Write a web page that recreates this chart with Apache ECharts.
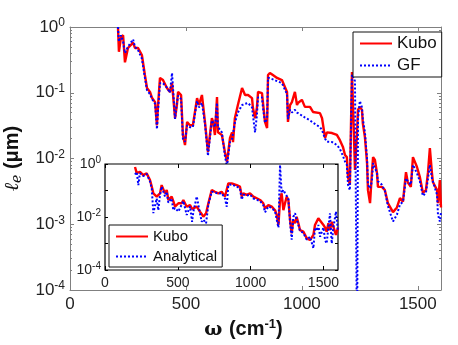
<!DOCTYPE html>
<html>
<head>
<meta charset="utf-8">
<script src="https://cdn.jsdelivr.net/npm/echarts@6/dist/echarts.min.js"></script>
<style>
html, body { margin: 0; padding: 0; background: #fff; }
#chart { width: 458px; height: 345px; }
</style>
</head>
<body>
<div id="chart"></div>
<script>
// main panel: Kubo vs GF, mean free path (um) against omega (cm^-1)
var mainFreq = [207, 211, 220, 229, 237, 250, 272, 280, 293, 310,
  323, 332, 345, 354, 367, 375, 379, 388, 401, 418,
  431, 440, 453, 461, 466, 479, 487, 496, 505, 517,
  530, 548, 556, 569, 582, 595, 612, 617, 625, 634,
  638, 655, 668, 677, 681, 690, 699, 703, 711, 724,
  742, 755, 768, 785, 789, 798, 806, 811, 828, 832,
  841, 850, 854, 862, 875, 893, 914, 936, 940, 949,
  957, 970, 979, 983, 1000, 1013, 1035, 1048, 1078, 1087,
  1100, 1108, 1130, 1151, 1164, 1177, 1186, 1194, 1199, 1207,
  1216, 1229, 1238, 1242, 1250, 1259, 1263, 1272, 1281, 1285,
  1294, 1302, 1307, 1315, 1324, 1328, 1345, 1358, 1371, 1393,
  1410, 1423, 1436, 1449, 1457, 1470, 1479, 1496, 1509, 1522,
  1535, 1544, 1552, 1561, 1565, 1583, 1587, 1595, 1600]
var mainKubo = [0.97, 0.42, 0.70, 0.75, 0.29, 0.48, 0.58, 0.48, 0.48, 0.375,
  0.186, 0.118, 0.103, 0.083, 0.072, 0.032, 0.059, 0.168, 0.156, 0.118,
  0.103, 0.14, 0.041, 0.065, 0.103, 0.0925, 0.0228, 0.016, 0.036, 0.032,
  0.032, 0.083, 0.065, 0.0925, 0.036, 0.0126, 0.041, 0.036, 0.0228, 0.086,
  0.025, 0.0228, 0.0126, 0.0089, 0.0113, 0.0205, 0.025, 0.0178, 0.041, 0.065,
  0.118, 0.0925, 0.0925, 0.083, 0.0586, 0.041, 0.0586, 0.103, 0.099, 0.072,
  0.036, 0.029, 0.186, 0.20, 0.186, 0.168, 0.156, 0.103, 0.036, 0.065,
  0.072, 0.103, 0.065, 0.070, 0.078, 0.061, 0.061, 0.051, 0.049, 0.041,
  0.0205, 0.025, 0.0244, 0.0228, 0.019, 0.015, 0.0113, 0.0105, 0.0052, 0.0040,
  0.207, 0.0067, 0.0244, 0.055, 0.061, 0.055, 0.034, 0.021, 0.0086, 0.0033,
  0.0021, 0.006, 0.0105, 0.0095, 0.006, 0.0037, 0.0037, 0.0033, 0.0021, 0.00153,
  0.0018, 0.0025, 0.0022, 0.0062, 0.0043, 0.0037, 0.0105, 0.0075, 0.0052, 0.003,
  0.0033, 0.0062, 0.0144, 0.006, 0.0044, 0.0033, 0.0021, 0.0047, 0.0018]
var mainGF = [1.0, 0.6, 0.75, 0.6, 0.4, 0.5, 0.65, 0.5, 0.45, 0.33,
  0.17, 0.11, 0.095, 0.08, 0.068, 0.028, 0.05, 0.14, 0.14, 0.12,
  0.1, 0.2, 0.04, 0.07, 0.09, 0.08, 0.02, 0.018, 0.032, 0.03,
  0.03, 0.075, 0.06, 0.07, 0.034, 0.011, 0.038, 0.04, 0.03, 0.07,
  0.03, 0.025, 0.011, 0.0075, 0.01, 0.018, 0.02, 0.02, 0.035, 0.05,
  0.065, 0.068, 0.07, 0.06, 0.045, 0.025, 0.045, 0.085, 0.085, 0.06,
  0.035, 0.04, 0.17, 0.17, 0.16, 0.15, 0.14, 0.095, 0.04, 0.055,
  0.05, 0.055, 0.05, 0.05, 0.045, 0.042, 0.038, 0.035, 0.03, 0.027,
  0.02, 0.018, 0.0178, 0.016, 0.014, 0.011, 0.009, 0.008, 0.004, 0.0033,
  0.19, 0.15, 0.00001, 0.04, 0.075, 0.06, 0.04, 0.025, 0.01, 0.004,
  0.0035, 0.0045, 0.0085, 0.008, 0.006, 0.0045, 0.004, 0.0032, 0.0019, 0.0011,
  0.0014, 0.002, 0.0022, 0.005, 0.0045, 0.004, 0.008, 0.006, 0.0045, 0.0027,
  0.003, 0.005, 0.008, 0.005, 0.0045, 0.0028, 0.0014, 0.0011, 0.0015]

// inset: Kubo vs Analytical
var insetFreq = [206, 218, 229, 240, 263, 286, 298, 309, 321, 332,
  355, 366, 378, 389, 401, 412, 424, 435, 458, 469,
  481, 504, 527, 538, 561, 584, 598, 607, 630, 652,
  664, 675, 694, 710, 733, 755, 778, 801, 824, 836,
  847, 870, 904, 927, 939, 950, 973, 996, 1019, 1042,
  1065, 1087, 1099, 1122, 1145, 1168, 1179, 1191, 1202, 1213,
  1225, 1236, 1248, 1259, 1271, 1282, 1293, 1305, 1316, 1328,
  1339, 1362, 1385, 1408, 1431, 1442, 1454, 1465, 1477, 1500,
  1511, 1522, 1534, 1545, 1557, 1568, 1586, 1600]
var insetKubo = [0.77, 0.45, 0.50, 0.51, 0.38, 0.45, 0.33, 0.25, 0.14, 0.078,
  0.059, 0.065, 0.078, 0.16, 0.14, 0.078, 0.105, 0.044, 0.059, 0.04,
  0.0245, 0.033, 0.033, 0.044, 0.0245, 0.028, 0.02, 0.018, 0.0245, 0.016,
  0.013, 0.0102, 0.0138, 0.033, 0.105, 0.09, 0.078, 0.09, 0.059, 0.05,
  0.186, 0.186, 0.16, 0.14, 0.059, 0.078, 0.068, 0.078, 0.059, 0.051,
  0.044, 0.033, 0.021, 0.028, 0.0245, 0.018, 0.012, 0.005, 0.044, 0.078,
  0.018, 0.033, 0.059, 0.044, 0.0077, 0.0024, 0.0077, 0.0058, 0.0102, 0.0058,
  0.0032, 0.0028, 0.0016, 0.00135, 0.0021, 0.005, 0.0043, 0.0089, 0.0077, 0.005,
  0.004, 0.0028, 0.0058, 0.0032, 0.0066, 0.0043, 0.0021, 0.004]
var insetAnalytical = [0.40, 0.50, 0.16, 0.45, 0.35, 0.42, 0.30, 0.22, 0.12, 0.014,
  0.05, 0.018, 0.07, 0.14, 0.12, 0.06, 0.09, 0.035, 0.05, 0.018,
  0.022, 0.016, 0.03, 0.04, 0.012, 0.025, 0.0066, 0.016, 0.059, 0.014,
  0.0066, 0.008, 0.0058, 0.03, 0.09, 0.085, 0.075, 0.08, 0.05, 0.0245,
  0.16, 0.17, 0.14, 0.12, 0.045, 0.07, 0.065, 0.07, 0.05, 0.045,
  0.04, 0.028, 0.015, 0.025, 0.022, 0.016, 0.008, 0.004, 0.92, 0.08,
  0.105, 0.08, 0.09, 0.05, 0.006, 0.0014, 0.01, 0.0138, 0.008, 0.005,
  0.003, 0.0025, 0.0014, 0.0018, 0.00066, 0.004, 0.003, 0.005, 0.0018, 0.004,
  0.00135, 0.001, 0.004, 0.0138, 0.001, 0.004, 0.016, 0.003]

var xTicks = [0, 500, 1000, 1500]
var yTicks = [1, 0.1, 0.01, 0.001, 0.0001]
var insetYLabels = [1, 0.01, 0.0001]

// log-spaced minor tick positions (2..9 per decade)
var yMinor = []
for (var e = -4; e < 0; e++) {
  for (var m = 2; m < 10; m++) yMinor.push(m * Math.pow(10, e))
}

function pairs(xs, ys) {
  return xs.map(function(x, i) { return [x, ys[i]] })
}

function powLabel(v) {
  return '{b|10}{s|' + Math.round(Math.log10(v)) + '}'
}

function plainLabel(v) {
  return String(v)
}

var grey = '#808080'
var mainLine = { show: true, onZero: false, lineStyle: { color: grey, width: 1 } }

function xTickAxis(grid, pos, color, z) {
  return {
    type: 'value', gridIndex: grid, min: 0, max: 1600, position: pos, z: z,
    axisLine: grid === 0 ? mainLine : { show: false, onZero: false },
    axisTick: { inside: true, length: 4, customValues: xTicks, lineStyle: { color: color } },
    axisLabel: { show: false },
    splitLine: { show: false }
  }
}

function yTickAxis(grid, pos, ticks, len, color, z, line) {
  return {
    type: 'log', logBase: 10, gridIndex: grid, min: 0.0001, max: 1, position: pos, z: z,
    axisLine: line ? mainLine : { show: false, onZero: false },
    axisTick: { inside: true, length: len, customValues: ticks, lineStyle: { color: color } },
    axisLabel: { show: false },
    splitLine: { show: false }
  }
}

var chart = echarts.init(document.getElementById('chart'))

var xMain = xTickAxis(0, 'bottom', grey, 0)
xMain.axisLabel = { show: true, customValues: xTicks, formatter: plainLabel, fontSize: 17, color: '#222', margin: 6 }
xMain.name = '{w|ω }{c|(cm}{s|-1}{c|)}'
xMain.nameLocation = 'middle'
xMain.nameGap = 26
xMain.nameTextStyle = {
  padding: [0, 24, 0, 0],
  rich: {
    w: { fontFamily: 'DejaVu Serif', fontWeight: 'bold', fontSize: 19, color: '#111', lineHeight: 24 },
    c: { fontWeight: 'bold', fontSize: 20, color: '#111', lineHeight: 24 },
    s: { fontWeight: 'bold', fontSize: 13, color: '#111', verticalAlign: 'top', lineHeight: 14 }
  }
}

var yMain = yTickAxis(0, 'left', yTicks, 4, grey, 0, true)
yMain.axisLabel = {
  show: true, customValues: yTicks, formatter: powLabel, margin: 5,
  rich: {
    b: { fontSize: 17, color: '#222', lineHeight: 20 },
    s: { fontSize: 12, color: '#222', verticalAlign: 'top', lineHeight: 12 }
  }
}
yMain.name = '{l|ℓ}{e|e}{u| (μm)}'
yMain.nameLocation = 'middle'
yMain.nameGap = 44
yMain.nameTextStyle = {
  rich: {
    l: { fontFamily: 'DejaVu Serif', fontStyle: 'italic', fontSize: 20, color: '#111', lineHeight: 24 },
    e: { fontFamily: 'DejaVu Serif', fontStyle: 'italic', fontSize: 14, color: '#111', verticalAlign: 'bottom', lineHeight: 14 },
    u: { fontWeight: 'bold', fontSize: 20, color: '#111', lineHeight: 24 }
  }
}

var xInset = xTickAxis(1, 'bottom', '#000', 11)
xInset.axisLabel = { show: true, customValues: xTicks, formatter: plainLabel, fontSize: 14, color: '#222', margin: 6 }

var yInset = yTickAxis(1, 'left', yTicks, 3, '#000', 11, false)
yInset.axisLabel = {
  show: true, customValues: insetYLabels, formatter: powLabel, margin: 4,
  rich: {
    b: { fontSize: 14, color: '#222', lineHeight: 17 },
    s: { fontSize: 10, color: '#222', verticalAlign: 'top', lineHeight: 10 }
  }
}

// legend icons: plain line, no marker
var noMarker = { color: 'rgba(0,0,0,0)', borderColor: 'rgba(0,0,0,0)', borderWidth: 0, opacity: 0 }

chart.setOption({
  animation: false,
  backgroundColor: '#fff',
  textStyle: { fontFamily: 'Liberation Sans' },
  grid: [
    { left: 70, right: 17, top: 27, bottom: 55, outerBoundsMode: 'none', containLabel: false },
    { left: 105, right: 120, top: 164, bottom: 75, outerBoundsMode: 'none', containLabel: false,
      show: true, backgroundColor: '#fff', borderColor: '#000', borderWidth: 1.2, z: 10 }
  ],
  legend: [
    { data: ['Kubo', 'GF'], orient: 'vertical', left: 353, top: 32, itemWidth: 32, itemHeight: 14,
      itemGap: 5, padding: [3, 5, 3, 6], borderColor: '#111', borderWidth: 1, backgroundColor: '#fff',
      itemStyle: noMarker, textStyle: { fontSize: 17, color: '#111' }, selectedMode: false, z: 20 },
    { data: ['Kubo', 'Analytical'], orient: 'vertical', left: 109, top: 225, itemWidth: 32, itemHeight: 12,
      itemGap: 5, padding: [4, 5, 3, 6], borderColor: '#111', borderWidth: 1, backgroundColor: '#fff',
      itemStyle: noMarker, textStyle: { fontSize: 15, color: '#111' }, selectedMode: false, z: 20 }
  ],
  xAxis: [
    xMain,
    xTickAxis(0, 'top', grey, 0),
    xInset,
    xTickAxis(1, 'top', '#000', 11)
  ],
  yAxis: [
    yMain,
    yTickAxis(0, 'left', yMinor, 2, grey, 0, false),
    yTickAxis(0, 'right', yTicks, 4, grey, 0, true),
    yTickAxis(0, 'right', yMinor, 2, grey, 0, false),
    yInset,
    yTickAxis(1, 'right', yTicks, 3, '#000', 11, false)
  ],
  series: [
    { name: 'Kubo', type: 'line', xAxisIndex: 0, yAxisIndex: 0, data: pairs(mainFreq, mainKubo),
      symbol: 'none', clip: true, z: 2,
      lineStyle: { color: '#ff0000', width: 2.4 }, itemStyle: { color: '#ff0000' } },
    { name: 'GF', type: 'line', xAxisIndex: 0, yAxisIndex: 0, data: pairs(mainFreq, mainGF),
      symbol: 'none', clip: true, z: 3,
      lineStyle: { color: '#0000ff', width: 2, type: 'dotted' }, itemStyle: { color: '#0000ff' } },
    { name: 'Kubo', type: 'line', xAxisIndex: 2, yAxisIndex: 4, data: pairs(insetFreq, insetKubo),
      symbol: 'none', clip: true, z: 12,
      lineStyle: { color: '#ff0000', width: 2.4 }, itemStyle: { color: '#ff0000' } },
    { name: 'Analytical', type: 'line', xAxisIndex: 2, yAxisIndex: 4, data: pairs(insetFreq, insetAnalytical),
      symbol: 'none', clip: true, z: 13,
      lineStyle: { color: '#0000ff', width: 2, type: 'dotted' }, itemStyle: { color: '#0000ff' } }
  ]
})
</script>
</body>
</html>
